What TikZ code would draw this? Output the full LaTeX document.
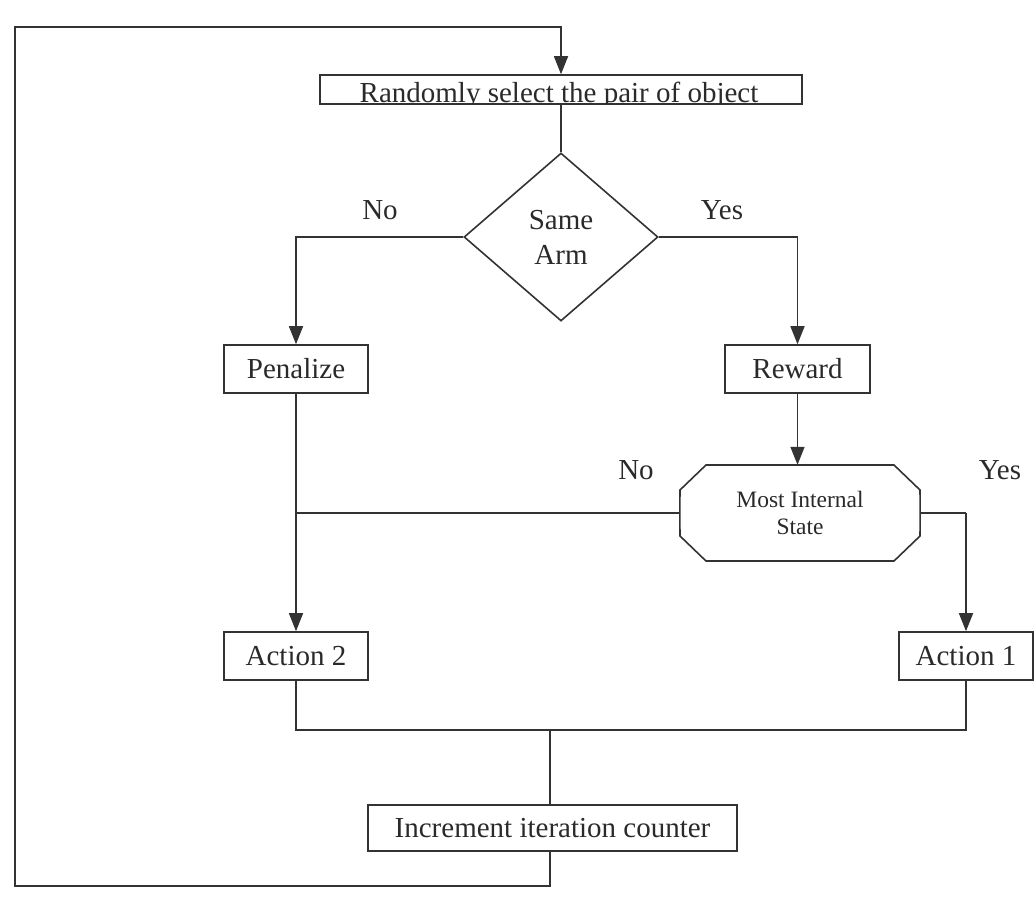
\documentclass[tikz,border=0pt]{standalone}
\usepackage{fontspec}
\setmainfont{Liberation Serif}
\usetikzlibrary{shapes.geometric,arrows.meta}
\definecolor{lc}{HTML}{333333}
\definecolor{tc}{HTML}{2A2A2A}
\begin{document}
\begin{tikzpicture}[x=1pt,y=-1pt,
  line/.style={draw=lc, line width=1.6pt},
  arr/.style={line, -{Triangle[length=18pt,width=14pt]}},
  bigfont/.style={font=\fontsize{29}{35}\selectfont, text=tc},
  box/.style={draw=lc, line width=1.6pt, rectangle, inner sep=0pt, bigfont},
  lbl/.style={bigfont, inner sep=0pt}]
\useasboundingbox (0,0) rectangle (1034,897);
% nodes
\node[box, minimum width=482pt, minimum height=29pt] (top) at (561,89.5) {};
\begin{scope}
  \clip (320,75) rectangle (802,103);
  \node[lbl, anchor=base] (toptext) at (559,102) {Randomly select the pair of object};
\end{scope}
\node[draw=lc, line width=1.6pt, diamond, minimum width=194pt, minimum height=168pt,
      inner sep=0pt, align=center, bigfont] (d) at (561,237) {Same\\Arm};
\node[box, minimum width=144pt, minimum height=48pt] (pen) at (296,369) {Penalize};
\node[box, minimum width=145pt, minimum height=48pt] (rew) at (797.5,369) {Reward};
% octagon decision
\node[inner sep=0pt, minimum width=240pt, minimum height=96pt, align=center,
      font=\fontsize{23.5}{27}\selectfont, text=tc] (oct) at (800,513) {Most Internal\\State};
\draw[line, line join=miter] (oct.west) -- (680,536) -- (706,561) -- (894,561) -- (920,536)
  -- (oct.east) -- (920,490) -- (894,465) -- (706,465) -- (680,490) -- cycle;
\node[box, minimum width=144pt, minimum height=48pt] (a2) at (296,656) {Action 2};
\node[box, minimum width=134pt, minimum height=48pt] (a1) at (966,656) {Action 1};
\node[box, minimum width=369pt, minimum height=46pt] (inc) at (552.5,828) {Increment iteration counter};
% labels
\node[lbl] (no1) at (380,210) {No};
\node[lbl] (yes1) at (722,210) {Yes};
\node[lbl] (no2) at (636,470) {No};
\node[lbl] (yes2) at (1000,470) {Yes};
% connectors
\draw[line] (top.south) -- (d.north);
\draw[arr] (d.west) -| (pen.north);
\draw[arr] (d.east) -| (rew.north);
\draw[arr] (rew.south) -- (rew.south |- oct.north);
\draw[arr] (pen.south) -- (a2.north);
\draw[line] (oct.west) -- (oct.west -| pen.south);
\coordinate (c1) at (a1.north |- oct.east);
\draw[line] (oct.east) -- (c1);
\draw[arr] (c1) -- (a1.north);
\coordinate (j) at (550,730);
\draw[line] (a2.south) |- (j);
\draw[line] (a1.south) |- (j);
\draw[line] (j) -- (j |- inc.north);
\coordinate (b) at (550,886);
\coordinate (bl) at (15,886);
\coordinate (tl) at (15,27);
\coordinate (tr) at (561,27);
\draw[arr] (inc.south -| j) -- (b) -- (bl) -- (tl) -- (tr) -- (top.north);
\end{tikzpicture}
\end{document}
